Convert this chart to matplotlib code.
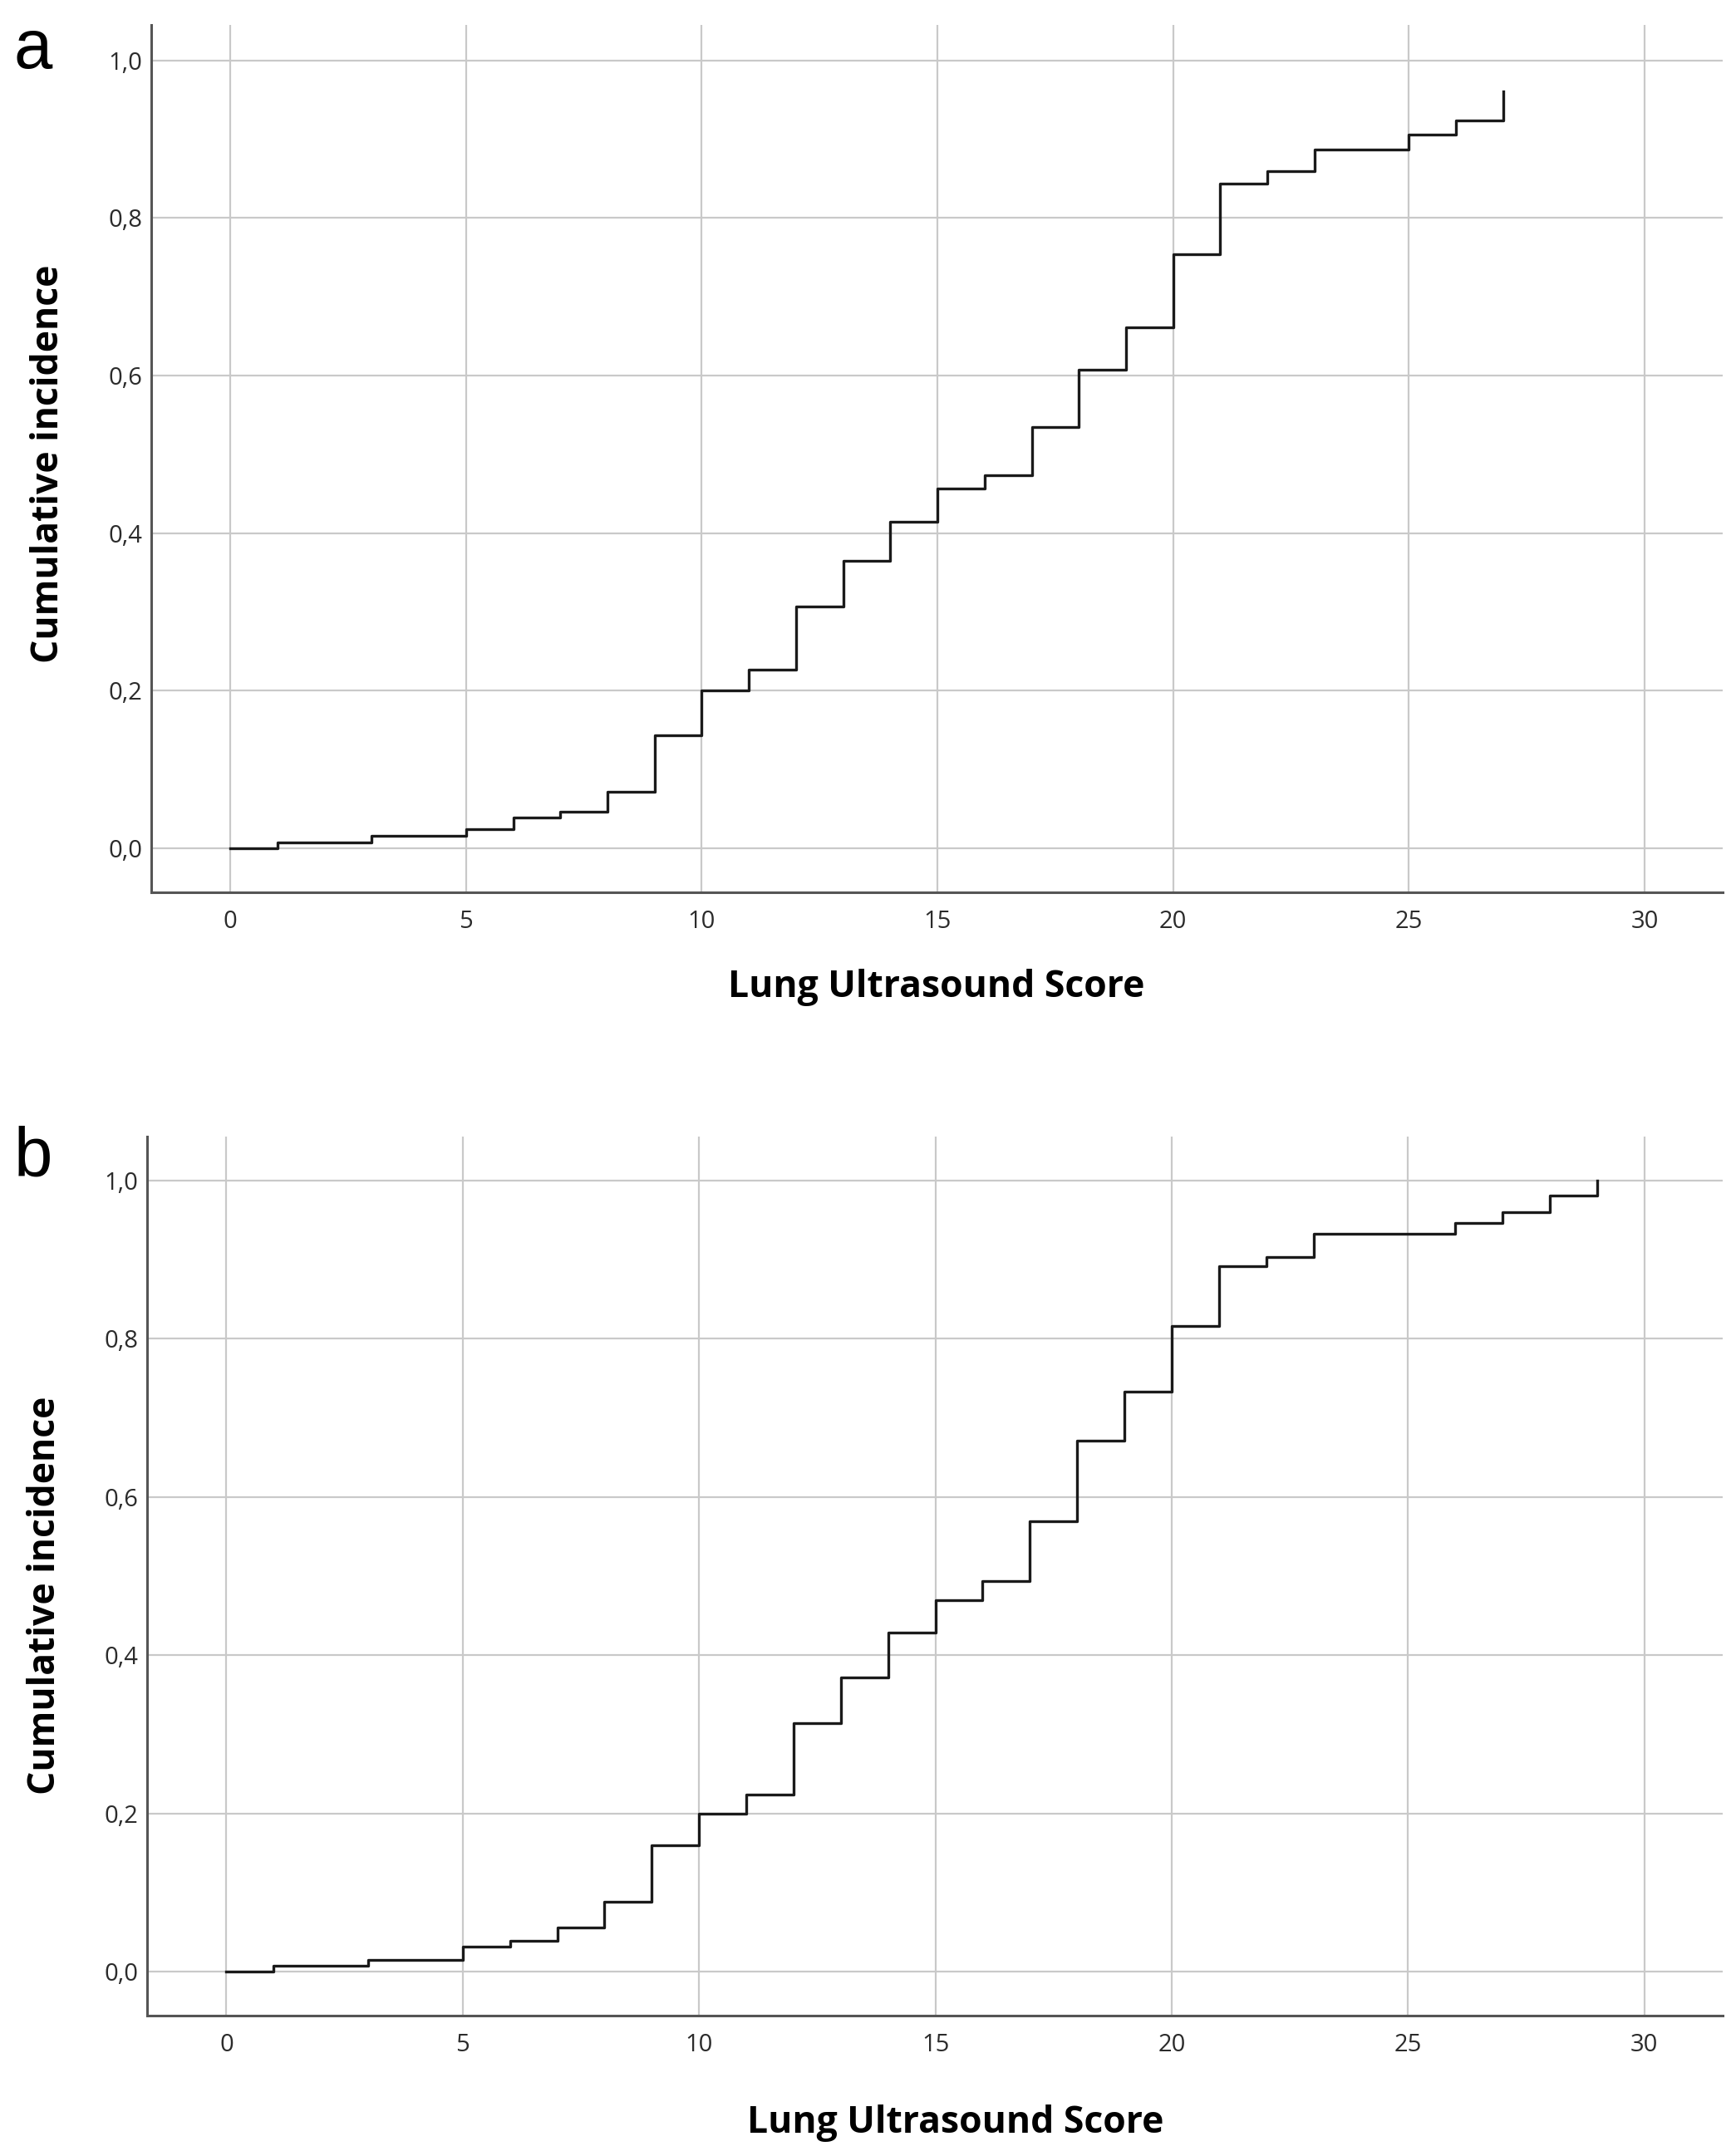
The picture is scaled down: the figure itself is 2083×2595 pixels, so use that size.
import matplotlib
matplotlib.use('Agg')
import matplotlib.pyplot as plt
from matplotlib.ticker import FuncFormatter

# panel a: lung ultrasound score vs cumulative incidence (step points)
scores_a = [0, 1, 3, 5, 6, 7, 8, 9, 10, 11, 12, 13, 14, 15, 16, 17, 18,
            19, 20, 21, 22, 23, 25, 26, 27]
incid_a = [0.0, 0.008, 0.016, 0.024, 0.039, 0.047, 0.072, 0.144, 0.201,
           0.227, 0.307, 0.365, 0.415, 0.457, 0.474, 0.535, 0.607, 0.661,
           0.754, 0.844, 0.859, 0.887, 0.906, 0.924, 0.961]

# panel b
scores_b = [0, 1, 3, 5, 6, 7, 8, 9, 10, 11, 12, 13, 14, 15, 16, 17, 18,
            19, 20, 21, 22, 23, 26, 27, 28, 29]
incid_b = [0.0, 0.007, 0.015, 0.032, 0.039, 0.056, 0.088, 0.160, 0.200,
           0.224, 0.314, 0.372, 0.428, 0.470, 0.494, 0.569, 0.671, 0.733,
           0.816, 0.892, 0.903, 0.933, 0.946, 0.960, 0.981, 1.0]

x_ticks = [0, 5, 10, 15, 20, 25, 30]
y_ticks = [0.0, 0.2, 0.4, 0.6, 0.8, 1.0]

W, H = 2083, 2595
fig = plt.figure(figsize=(W / 100, H / 100), dpi=100)

grid_c = '#c9c9c9'
spine_c = '#555555'
tick_font = 'Open Sans'
label_font = 'Open Sans'


def comma(v, pos):
    return ('%.1f' % v).replace('.', ',')


def panel(rect, xs, ys, ylims):
    ax = fig.add_axes(rect)
    ax.step(xs, ys, where='post', color='#1a1a1a', lw=2.4, zorder=3)
    ax.set_xlim(-1.67, 31.65)
    ax.set_ylim(*ylims)
    ax.set_xticks(x_ticks)
    ax.set_yticks(y_ticks)
    ax.yaxis.set_major_formatter(FuncFormatter(comma))
    ax.grid(True, color=grid_c, lw=1.6)
    ax.set_axisbelow(True)
    for s in ['top', 'right']:
        ax.spines[s].set_visible(False)
    for s in ['left', 'bottom']:
        ax.spines[s].set_color(spine_c)
        ax.spines[s].set_linewidth(2.2)
    ax.tick_params(length=0, labelsize=21, colors='#2b2b2b')
    ax.tick_params(axis='x', pad=15)
    ax.tick_params(axis='y', pad=8)
    for lab in ax.get_xticklabels() + ax.get_yticklabels():
        lab.set_fontfamily(tick_font)
    return ax


panel([0.0876, 0.586, 0.9074, 0.4025], scores_a, incid_a, (-0.056, 1.045))
panel([0.0852, 0.065, 0.9098, 0.408], scores_b, incid_b, (-0.056, 1.056))

# axis titles
fig.text(0.541, 0.542, 'Lung Ultrasound Score', ha='center', va='center',
         fontsize=32, fontweight='bold', family=label_font)
fig.text(0.552, 0.0153, 'Lung Ultrasound Score', ha='center', va='center',
         fontsize=32, fontweight='bold', family=label_font)
fig.text(0.0279, 0.785, 'Cumulative incidence', ha='center', va='center',
         rotation=90, fontsize=32, fontweight='bold', family=label_font)
fig.text(0.0263, 0.26, 'Cumulative incidence', ha='center', va='center',
         rotation=90, fontsize=32, fontweight='bold', family=label_font)

# panel letters
fig.text(0.008, 0.992, 'a', ha='left', va='top', fontsize=60,
         family='Liberation Sans')
fig.text(0.008, 0.478, 'b', ha='left', va='top', fontsize=60,
         family='Liberation Sans')

fig.savefig('out.png', dpi=100)
